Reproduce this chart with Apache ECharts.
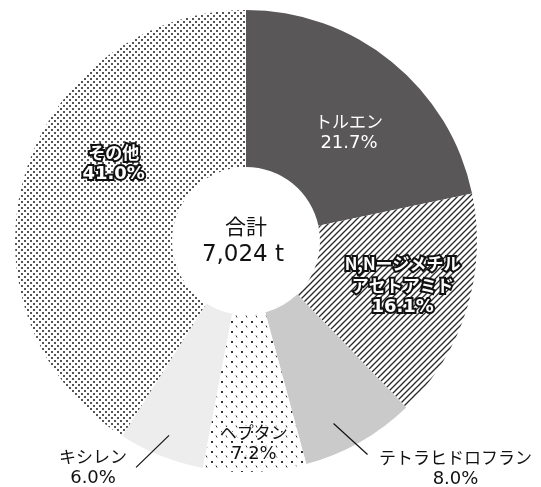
<!DOCTYPE html>
<html>
<head>
<meta charset="utf-8">
<script src="https://cdn.jsdelivr.net/npm/echarts@6/dist/echarts.min.js"></script>
<style>
  html, body { margin: 0; padding: 0; background: #fff; }
  #chart { width: 541px; height: 487px; }
</style>
</head>
<body>
<div id="chart"></div>
<script>
// Solvent shares (percent), clockwise from 12 o'clock
const categories = ['トルエン', 'N,Nージメチル\nアセトアミド', 'テトラヒドロフラン', 'ヘプタン', 'キシレン', 'その他'];
const shares = [21.7, 16.1, 8.0, 7.2, 6.0, 41.0];
const totalTitle = '合計';
const totalText = '7,024 t';

const KANA_FONT = '"Noto Sans CJK JP", sans-serif';
const NUM_FONT = '"DejaVu Sans", "Noto Sans CJK JP", sans-serif';

// Small repeating fill tiles
function tile(w, h, draw) {
  const c = document.createElement('canvas');
  c.width = w; c.height = h;
  const g = c.getContext('2d');
  g.fillStyle = '#fff';
  g.fillRect(0, 0, w, h);
  draw(g);
  return { image: c, repeat: 'repeat' };
}
const hatchFill = tile(6, 6, g => {
  g.strokeStyle = '#2a2a2a';
  g.lineWidth = 1.3;
  for (const o of [-6, 0, 6]) {
    g.beginPath();
    g.moveTo(o - 1, 7);
    g.lineTo(o + 7, -1);
    g.stroke();
  }
});
const checkFill = tile(6, 6, g => {
  g.fillStyle = '#555';
  g.fillRect(0, 0, 2, 2);
  g.fillRect(3, 3, 2, 2);
});
const sparseFill = tile(10, 10, g => {
  g.fillStyle = '#333';
  g.fillRect(1, 1, 2, 2);
  g.strokeStyle = '#333';
  g.lineWidth = 1;
  g.beginPath();
  g.moveTo(6, 5.5);
  g.lineTo(7, 7.5);
  g.stroke();
});

const fills = ['#595757', hatchFill, '#c9cac9', sparseFill, '#ededed', checkFill];

// Text looks per slice
const plainDark = { color: '#111' };
const plainLight = { color: '#fff' };
const outlined = { color: '#fff', textBorderColor: '#111', textBorderWidth: 4, fontWeight: 'bold' };
const haloDark = { color: '#111', textBorderColor: '#fff', textBorderWidth: 2 };
const textLooks = [plainLight, outlined, plainDark, haloDark, plainDark, outlined];
const outsideLabel = [false, false, true, false, true, false];

// Fine placement of each label (leader line: inset from rim, start nudge, run, text offset)
const labelShift = [
  { dx: 5, dy: 12 },
  { dx: 8, dy: -1 },
  { inset: 27, start: [-13, 5], line: [34, 31], text: [88, 14] },
  { dx: 2, dy: 47 },
  { inset: 22, start: [0, 0], line: [-33, 32], text: [-43, 0] },
  { dx: 17, dy: -34 }
];

function labelFor(i, show) {
  const look = textLooks[i];
  const base = Object.assign({ lineHeight: 22 }, look);
  return {
    show: show,
    position: outsideLabel[i] ? 'outside' : 'inside',
    formatter: p => '{n|' + p.name + '}\n{v|' + p.value.toFixed(1) + '%}',
    rich: {
      n: Object.assign({}, base, { fontSize: 17, fontFamily: KANA_FONT }),
      v: Object.assign({}, base, { fontSize: 18, fontFamily: NUM_FONT })
    },
    align: 'center'
  };
}

const ringCenter = [246, 241];
const ringRadius = [74, 231];

// Slices with the labels that sit inside them
const ringSeries = {
  type: 'pie',
  z: 2,
  center: ringCenter,
  radius: ringRadius,
  startAngle: 90,
  clockwise: true,
  avoidLabelOverlap: false,
  silent: true,
  data: categories.map((name, i) => ({
    name: name,
    value: shares[i],
    itemStyle: { color: fills[i], borderWidth: 0 },
    label: labelFor(i, !outsideLabel[i]),
    labelLine: { show: false }
  })),
  labelLayout: function (p) {
    const s = labelShift[p.dataIndex];
    return s.line ? {} : { dx: s.dx, dy: s.dy };
  }
};

// Same ring, unfilled, carrying the callout labels so their leader lines sit on top
const calloutSeries = {
  type: 'pie',
  z: 5,
  center: ringCenter,
  radius: ringRadius,
  startAngle: 90,
  clockwise: true,
  avoidLabelOverlap: false,
  silent: true,
  data: categories.map((name, i) => ({
    name: name,
    value: shares[i],
    itemStyle: { color: 'rgba(0,0,0,0)', borderWidth: 0 },
    label: labelFor(i, outsideLabel[i]),
    labelLine: {
      show: outsideLabel[i],
      length: 12,
      length2: 0,
      smooth: false,
      lineStyle: { color: '#111', width: 1.2 }
    }
  })),
  labelLayout: function (p) {
    const s = labelShift[p.dataIndex];
    const pts = p.labelLinePoints;
    if (!s.line || !pts) return {};
    const ux = pts[1][0] - pts[0][0], uy = pts[1][1] - pts[0][1];
    const len = Math.hypot(ux, uy) || 1;
    const sx = pts[0][0] - ux / len * s.inset + s.start[0];
    const sy = pts[0][1] - uy / len * s.inset + s.start[1];
    const ex = sx + s.line[0], ey = sy + s.line[1];
    return {
      x: ex + s.text[0],
      y: ey + s.text[1],
      align: 'center',
      verticalAlign: 'middle',
      labelLinePoints: [[sx, sy], [ex, ey], [ex, ey]]
    };
  }
};

const chart = echarts.init(document.getElementById('chart'), null, { renderer: 'canvas' });
chart.setOption({
  animation: false,
  backgroundColor: '#fff',
  graphic: [
    { type: 'text', x: 246, y: 226, silent: true,
      style: { text: totalTitle, fontSize: 21, fontFamily: KANA_FONT, fill: '#111', align: 'center', verticalAlign: 'middle' } },
    { type: 'text', x: 243, y: 255, silent: true,
      style: { text: totalText, fontSize: 23, fontFamily: NUM_FONT, fill: '#111', align: 'center', verticalAlign: 'middle' } }
  ],
  series: [ringSeries, calloutSeries]
});
</script>
</body>
</html>
